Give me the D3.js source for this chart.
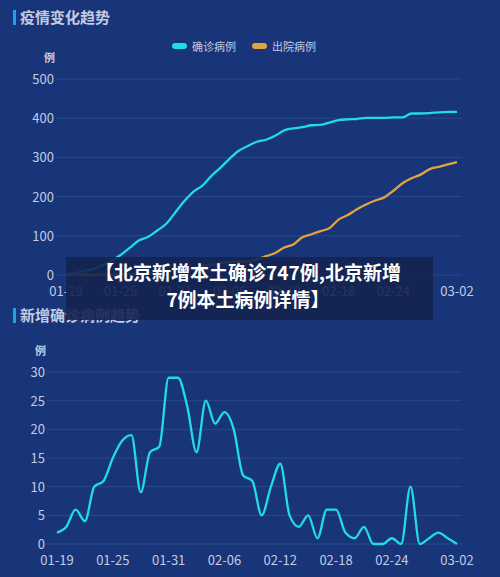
<!DOCTYPE html>
<html><head><meta charset="utf-8">
<script src="https://cdn.jsdelivr.net/npm/d3@7"></script>
<style>
body{margin:0;background:#18357a;}
svg{display:block;font-family:"Noto Sans CJK SC","Noto Sans",sans-serif;}
</style></head><body>
<svg id="chart" width="500" height="577"></svg>
<script>
// jshint esversion: 6
var dates = ["01-19","01-20","01-21","01-22","01-23","01-24","01-25","01-26","01-27","01-28","01-29","01-30","01-31",
  "02-01","02-02","02-03","02-04","02-05","02-06","02-07","02-08","02-09","02-10","02-11","02-12","02-13","02-14",
  "02-15","02-16","02-17","02-18","02-19","02-20","02-21","02-22","02-23","02-24","02-25","02-26","02-27","02-28",
  "02-29","03-01","03-02"];
var tickLabels = ["01-19","01-25","01-31","02-06","02-12","02-18","02-24","03-02"];
var confirmed = [2,5,11,15,25,36,51,69,88,97,113,130,159,188,212,228,253,274,297,317,329,340,345,355,369,374,377,382,
  383,389,395,397,398,401,401,401,402,402,412,412,413,415,416,416];
var discharged = [0,0,0,0,1,1,2,2,3,4,6,8,10,13,17,23,27,31,33,34,35,40,48,56,70,78,96,104,112,120,142,153,168,180,
  190,198,215,234,247,256,270,276,282,288];
var daily = [2,3,6,4,10,11,15,18,19,9,16,17,29,29,24,16,25,21,23,20,12,11,5,10,14,5,3,5,1,6,6,2,1,3,0,0,1,0,10,0,1,2,1,0];

var svg = d3.select("#chart");
var txt = "#c3cbe0", grid = "#2b4889";

function panelTitle(y, label) {
    svg.append("rect").attr("x", 13).attr("y", y - 13).attr("width", 3).attr("height", 15).attr("fill", "#1fa3e8");
    svg.append("text").attr("x", 20).attr("y", y).attr("fill", txt).attr("font-size", 15).attr("font-weight", "bold").text(label);
}

function panel(opts) {
    var x = d3.scalePoint().domain(dates).range([opts.x0, 457]);
    var y = d3.scaleLinear().domain([0, opts.max]).range([opts.yb, opts.yt]);
    var g = svg.append("g");
    y.ticks(opts.max / opts.step).forEach(function(t) {
        g.append("line").attr("x1", opts.x0 - 10).attr("x2", 462).attr("y1", y(t)).attr("y2", y(t))
            .attr("stroke", grid).attr("stroke-width", 1);
        g.append("text").attr("x", opts.x0 - 12).attr("y", y(t) + 5).attr("text-anchor", "end")
            .attr("fill", txt).attr("font-size", 13).text(t);
    });
    g.append("text").attr("x", opts.x0 - 22).attr("y", opts.yt - 17).attr("fill", txt)
        .attr("font-size", 11).attr("font-weight", "bold").text("例");
    tickLabels.forEach(function(d) {
        g.append("text").attr("x", x(d)).attr("y", opts.yb + 21).attr("text-anchor", "middle")
            .attr("fill", txt).attr("font-size", 13).text(d);
    });
    opts.series.forEach(function(s) {
        var line = d3.line().x(function(d, i) { return x(dates[i]); }).y(function(d) { return y(d); })
            .curve(d3.curveMonotoneX);
        g.append("path").attr("d", line(s.values)).attr("fill", "none")
            .attr("stroke", s.color).attr("stroke-width", 2.3);
    });
}

panelTitle(23, "疫情变化趋势");
panel({x0: 66, yb: 275, yt: 79, max: 500, step: 100,
    series: [{values: discharged, color: "#e0a440"}, {values: confirmed, color: "#22dbe8"}]});

// legend
[["确诊病例", "#22dbe8", 172], ["出院病例", "#e0a440", 252]].forEach(function(l) {
    svg.append("rect").attr("x", l[2]).attr("y", 43).attr("width", 15).attr("height", 6).attr("rx", 3).attr("fill", l[1]);
    svg.append("text").attr("x", l[2] + 20).attr("y", 51).attr("fill", txt).attr("font-size", 11).text(l[0]);
});

panelTitle(321, "新增确诊病例趋势");
panel({x0: 57, yb: 544, yt: 372, max: 30, step: 5,
    series: [{values: daily, color: "#22dbe8"}]});

// caption overlay
svg.append("rect").attr("x", 66).attr("y", 257).attr("width", 367).attr("height", 63).attr("fill", "#15244f").attr("opacity", 0.9);
svg.append("text").attr("x", 248).attr("y", 280).attr("text-anchor", "middle").attr("fill", "#fff")
    .attr("font-size", 19).attr("font-weight", "bold").text("【北京新增本土确诊747例,北京新增");
svg.append("text").attr("x", 248).attr("y", 307).attr("text-anchor", "middle").attr("fill", "#fff")
    .attr("font-size", 19).attr("font-weight", "bold").text("7例本土病例详情】");
</script>
</body></html>
